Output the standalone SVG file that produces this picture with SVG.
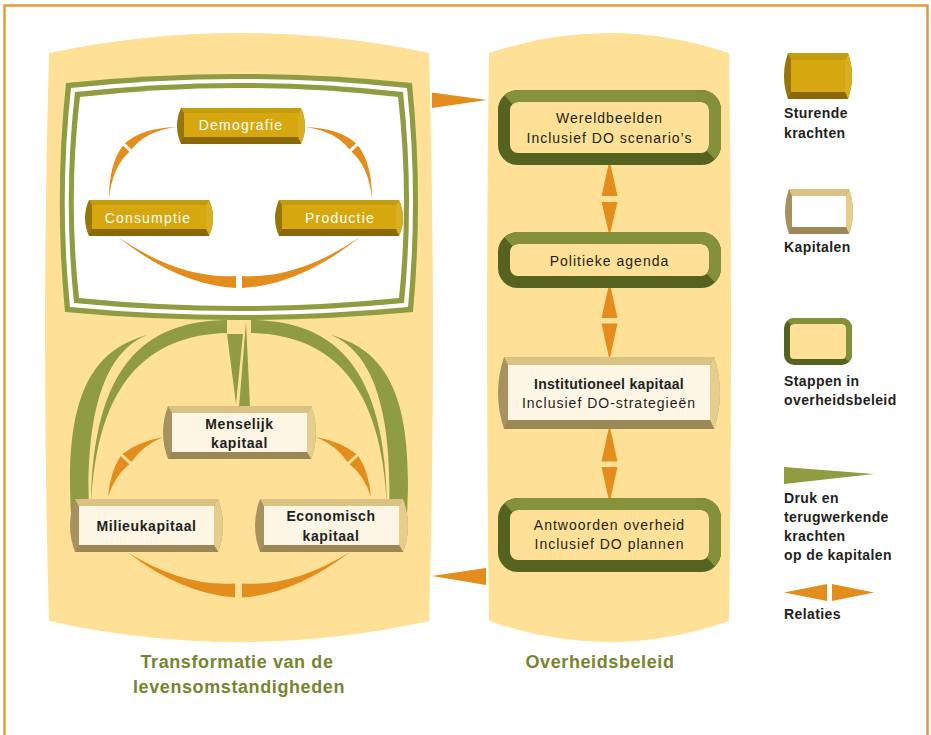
<svg xmlns="http://www.w3.org/2000/svg" xmlns:xlink="http://www.w3.org/1999/xlink" width="931" height="735" viewBox="0 0 931 735">
<style>
.txt{font-family:"Liberation Sans",Arial,sans-serif;fill:#231F20}
.gt{font-family:"Liberation Sans",Arial,sans-serif;fill:#FFFFFF;font-size:14px;letter-spacing:1.2px;text-anchor:middle}
.ct{font-family:"Liberation Sans",Arial,sans-serif;fill:#231F20;font-size:14px;font-weight:bold;letter-spacing:0.6px;text-anchor:middle}
.st{font-family:"Liberation Sans",Arial,sans-serif;fill:#231F20;font-size:14px;letter-spacing:1px;text-anchor:middle}
.lt{font-family:"Liberation Sans",Arial,sans-serif;fill:#231F20;font-size:14px;font-weight:bold;letter-spacing:0.4px}
.tt{font-family:"Liberation Sans",Arial,sans-serif;fill:#778530;font-size:18px;font-weight:bold;letter-spacing:0.6px;text-anchor:middle}
.panel{fill:#FEE196}
.olive{fill:#8F9C41}
.orange{fill:#E38D1D}
.gL{fill:#97750A}.gR{fill:#D9AF22}.gT{fill:#C49C0E}.gB{fill:#8A6806}.gF{fill:#D6A70F}
.cL{fill:#A7925F}.cR{fill:#E6CD8C}.cT{fill:#DCC282}.cB{fill:#9C8757}.cF{fill:#FDF6E5}
.stepDark{fill:#FEE196;stroke:#56621F;stroke-width:12}
.stepLight{fill:none;stroke:#85913A;stroke-width:12}
</style>
<defs>
<symbol id="goldBox" viewBox="0 0 128 36">
<path class="gL" d="M4,0 L124,0 Q132,18 124,36 L4,36 Q-4,18 4,0 Z"/>
<path class="gR" d="M124,0 Q132,18 124,36 L121,29 L121,5 Z"/>
<path class="gT" d="M4,0 L124,0 L121,5 L7,5 Z"/>
<path class="gB" d="M4,36 L124,36 L121,29 L7,29 Z"/>
<rect class="gF" x="7" y="5" width="114" height="24"/>
</symbol>
<symbol id="capBox" viewBox="0 0 153 53">
<path class="cL" d="M5,0 L148,0 Q158,26.5 148,53 L5,53 Q-5,26.5 5,0 Z"/>
<path class="cR" d="M148,0 Q158,26.5 148,53 L144,46 L144,7 Z"/>
<path class="cT" d="M5,0 L148,0 L144,7 L9,7 Z"/>
<path class="cB" d="M5,53 L148,53 L144,46 L9,46 Z"/>
<rect class="cF" x="9" y="7" width="135" height="39"/>
</symbol>
</defs>

<rect x="4.5" y="5.5" width="923" height="800" fill="none" stroke="#E39B3A" stroke-width="2.5"/>

<g id="panels">
<path class="panel" d="M49,53 Q239,13 429,53 Q437,337 429,621 Q239,663 49,621 Q41,337 49,53 Z"/>
<path class="panel" d="M489,53 Q609,13 729,53 Q733,337 729,621 Q609,663 489,621 Q485,337 489,53 Z"/>
<text class="tt" x="237" y="668">Transformatie van de</text>
<text class="tt" x="239" y="693">levensomstandigheden</text>
<text class="tt" x="600" y="668">Overheidsbeleid</text>
</g>

<g id="frame">
<path class="olive" d="M66,83 Q239,65 412,83 Q423.5,197 413,312 Q239,328 65,312 Q54,197 66,83 Z"/>
<path fill="#FFFFFF" d="M71,88 Q239,70 407,88 Q418.5,197 408,307 Q239,323 70,307 Q59,197 71,88 Z"/>
<path class="olive" d="M75,92 Q239,74 403,92 Q414.5,197 404,303 Q239,319 74,303 Q63,197 75,92 Z"/>
<path fill="#FFFFFF" d="M80,97 Q239,79 398,97 Q409.5,197 399,298 Q239,314 79,298 Q68,197 80,97 Z"/>
</g>

<g id="connectors">
<!-- gold cycle relations -->
<path class="orange" d="M176,127 Q142.4,128 125,143.3 L131.6,149.5 Q145.6,131 176,127 Z"/>
<path class="orange" d="M109,199 Q108.9,164 122.9,145.5 L129.5,151.7 Q112.1,167 109,199 Z"/>
<path class="orange" d="M305,127 Q338.6,128 356,143.3 L349.4,149.5 Q335.4,131 305,127 Z"/>
<path class="orange" d="M372,199 Q372.1,164 358.1,145.5 L351.5,151.7 Q368.9,167 372,199 Z"/>
<path class="orange" d="M118,237 Q177.5,284.8 236,288 L236,276 Q179.5,279.2 118,237 Z"/>
<path class="orange" d="M360,237 Q300.5,284.8 242,288 L242,276 Q298.5,279.2 360,237 Z"/>
<!-- capitals cycle relations -->
<path class="orange" d="M163,437 Q137.5,442 122.6,453.9 L131.4,462 Q142,446 163,437 Z"/>
<path class="orange" d="M108,497 Q110,472 120.6,456 L129.4,464.2 Q114.5,476 108,497 Z"/>
<path class="orange" d="M316,437 Q341.5,442 356.4,453.9 L347.6,462 Q337,446 316,437 Z"/>
<path class="orange" d="M371,497 Q369,472 358.4,456 L349.6,464.2 Q364.5,476 371,497 Z"/>
<path class="orange" d="M127,552 Q181.6,593.8 235,597.5 L235,583.5 Q183.9,587.2 127,552 Z"/>
<path class="orange" d="M350,552 Q295.4,593.8 242,597.5 L242,583.5 Q293.1,587.2 350,552 Z"/>
<!-- pressure / feedback wedges -->
<path class="olive" d="M147,335 C95,350 64,390 71,514 L89,512 C85,400 110,350 147,335 Z"/>
<path class="olive" d="M227,320 C145,321 92,365 91,508 C96,380 150,335 227,333 Z"/>
<path class="olive" d="M331,335 C383,350 414,390 407,514 L389,512 C393,400 368,350 331,335 Z"/>
<path class="olive" d="M251,320 C333,321 386,365 387,508 C382,380 328,335 251,333 Z"/>
<path class="olive" d="M227,334 L243,334 L236,404 Z"/>
<path class="olive" d="M246,322 L250,407 L239,407 Z"/>
<!-- between panels -->
<path class="orange" d="M432,92.5 L487,100 L432,108 Z"/>
<path class="orange" d="M432,576 L486,568 L486,585 Z"/>
<!-- policy steps -->
<path class="orange" d="M609.5,160 L617.5,196 L601.5,196 Z"/>
<path class="orange" d="M601.5,202 L617.5,202 L609.5,236 Z"/>
<path class="orange" d="M609.5,282 L617.5,318 L601.5,318 Z"/>
<path class="orange" d="M601.5,323.5 L617.5,323.5 L609.5,360 Z"/>
<path class="orange" d="M609.5,425 L617.5,461.5 L601.5,461.5 Z"/>
<path class="orange" d="M601.5,467 L617.5,467 L609.5,503 Z"/>
</g>

<g id="demografie">
<use xlink:href="#goldBox" href="#goldBox" x="177" y="108" width="128" height="36"/>
<text class="gt" x="241" y="130">Demografie</text>
</g>
<g id="consumptie">
<use xlink:href="#goldBox" href="#goldBox" x="85" y="200" width="128" height="36"/>
<text class="gt" x="148" y="222.5">Consumptie</text>
</g>
<g id="productie">
<use xlink:href="#goldBox" href="#goldBox" x="275" y="200" width="128" height="36"/>
<text class="gt" x="340" y="222.5">Productie</text>
</g>

<g id="menselijk">
<use xlink:href="#capBox" href="#capBox" x="163" y="406" width="153" height="53"/>
<text class="ct" x="239.5" y="428.5">Menselijk</text>
<text class="ct" x="239.5" y="448">kapitaal</text>
</g>
<g id="milieu">
<use xlink:href="#capBox" href="#capBox" x="70" y="499" width="153" height="53"/>
<text class="ct" x="146.5" y="531">Milieukapitaal</text>
</g>
<g id="economisch">
<use xlink:href="#capBox" href="#capBox" x="255" y="499" width="153" height="53"/>
<text class="ct" x="331" y="521">Economisch</text>
<text class="ct" x="331" y="541">kapitaal</text>
</g>

<g id="wereldbeelden">
<rect class="stepDark" x="504" y="96" width="211" height="63" rx="14"/>
<rect class="stepLight" x="504" y="96" width="211" height="63" rx="14" stroke-dasharray="262 261.96" stroke-dashoffset="11"/>
<text class="st" x="609.5" y="123">Wereldbeelden</text>
<text class="st" x="609.5" y="142.5">Inclusief DO scenario’s</text>
</g>
<g id="politieke">
<rect class="stepDark" x="504" y="238" width="211" height="44" rx="14"/>
<rect class="stepLight" x="504" y="238" width="211" height="44" rx="14" stroke-dasharray="243 242.96" stroke-dashoffset="11"/>
<text class="st" x="609.5" y="266">Politieke agenda</text>
</g>
<g id="institutioneel">
<path class="cL" d="M504,357 L714,357 Q726,393 714,429 L504,429 Q492,393 504,357 Z"/>
<path class="cR" d="M714,357 Q726,393 714,429 L710,420 L710,365 Z"/>
<path class="cT" d="M504,357 L714,357 L710,365 L508,365 Z"/>
<path class="cB" d="M504,429 L714,429 L710,420 L508,420 Z"/>
<rect class="cF" x="508" y="365" width="202" height="55"/>
<text class="ct" x="609" y="388.5" style="letter-spacing:0.3px">Institutioneel kapitaal</text>
<text class="st" x="609" y="408">Inclusief DO-strategieën</text>
</g>
<g id="antwoorden">
<rect class="stepDark" x="504" y="504" width="211" height="62" rx="14"/>
<rect class="stepLight" x="504" y="504" width="211" height="62" rx="14" stroke-dasharray="261 260.96" stroke-dashoffset="11"/>
<text class="st" x="609.5" y="530">Antwoorden overheid</text>
<text class="st" x="609.5" y="549">Inclusief DO plannen</text>
</g>

<g id="legend">
<path class="gL" d="M788,53 L848,53 Q856,76 848,99 L788,99 Q780,76 788,53 Z"/>
<path class="gR" d="M848,53 Q856,76 848,99 L845,92 L845,60 Z"/>
<path class="gT" d="M788,53 L848,53 L845,60 L791,60 Z"/>
<path class="gB" d="M788,99 L848,99 L845,92 L791,92 Z"/>
<rect class="gF" x="791" y="60" width="54" height="32"/>
<text class="lt" x="784" y="118">Sturende</text>
<text class="lt" x="784" y="138">krachten</text>

<path class="cL" d="M789,189 L849,189 Q857,211.5 849,234 L789,234 Q781,211.5 789,189 Z"/>
<path class="cR" d="M849,189 Q857,211.5 849,234 L846,227 L846,196 Z"/>
<path class="cT" d="M789,189 L849,189 L846,196 L792,196 Z"/>
<path class="cB" d="M789,234 L849,234 L846,227 L792,227 Z"/>
<rect fill="#FFFFFF" x="792" y="196" width="54" height="31"/>
<text class="lt" x="784" y="252">Kapitalen</text>

<rect x="787" y="321" width="62" height="41" rx="7" fill="#FEE196" stroke="#56621F" stroke-width="6"/>
<rect x="787" y="321" width="62" height="41" rx="7" fill="none" stroke="#85913A" stroke-width="6" stroke-dasharray="97 96.98" stroke-dashoffset="5.5"/>
<text class="lt" x="784" y="386">Stappen in</text>
<text class="lt" x="784" y="405">overheidsbeleid</text>

<path class="olive" d="M784,467 L874,474 L784,484 Z"/>
<text class="lt" x="784" y="503">Druk  en</text>
<text class="lt" x="784" y="522">terugwerkende</text>
<text class="lt" x="784" y="541">krachten</text>
<text class="lt" x="784" y="560">op de kapitalen</text>

<path class="orange" d="M784,592.5 L827,584 L827,601 Z"/>
<path class="orange" d="M832,584 L874,592.5 L832,601 Z"/>
<text class="lt" x="784" y="619">Relaties</text>
</g>
</svg>
